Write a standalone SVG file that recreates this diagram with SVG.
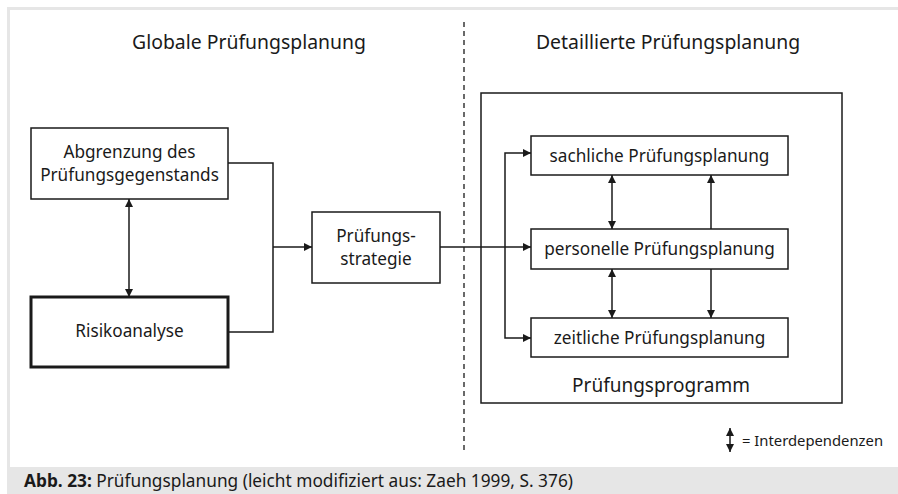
<svg xmlns="http://www.w3.org/2000/svg" width="898" height="494" viewBox="0 0 898 494">
  <style>
    text { font-family: "Noto Sans", "Liberation Sans", sans-serif; fill: #1a1a1a; }
    .title { font-size: 19.4px; text-anchor: middle; }
    .lbl { font-size: 17.2px; text-anchor: middle; }
    .box { fill: #fff; stroke: #1a1a1a; stroke-width: 1.5; }
    .thick { stroke-width: 3; }
    .line { fill: none; stroke: #1a1a1a; stroke-width: 1.5; }
  </style>
  <defs>
    <marker id="arr" viewBox="0 0 10 10" refX="10" refY="5" markerWidth="9" markerHeight="8" markerUnits="userSpaceOnUse" orient="auto-start-reverse">
      <path d="M0,0 L10,5 L0,10 Z" fill="#1a1a1a"/>
    </marker>
  </defs>

  <!-- frame and caption band -->
  <rect x="0" y="0" width="898" height="494" fill="#fff"/>
  <rect x="7" y="7" width="891" height="3" fill="#e6e6e6"/>
  <rect x="7" y="7" width="3" height="460" fill="#e6e6e6"/>
  <rect x="7" y="467" width="891" height="27" fill="#e6e6e6"/>
  <text x="24" y="487" style="font-size:17.3px"><tspan font-weight="bold">Abb. 23:</tspan> Prüfungsplanung (leicht modifiziert aus: Zaeh 1999, S. 376)</text>

  <!-- section headings and divider -->
  <text class="title" x="249" y="49">Globale Prüfungsplanung</text>
  <text class="title" x="668" y="49">Detaillierte Prüfungsplanung</text>
  <line x1="464" y1="22" x2="464" y2="452" stroke="#1a1a1a" stroke-width="1.3" stroke-dasharray="5,4"/>

  <!-- connectors -->
  <g id="connectors">
    <path class="line" d="M228,163 H273 V332 H228"/>
    <path class="line" d="M273,247 H312" marker-end="url(#arr)"/>
    <path class="line" d="M440,247 H531" marker-end="url(#arr)"/>
    <path class="line" d="M505,247 V153 H531" marker-end="url(#arr)"/>
    <path class="line" d="M505,247 V338 H531" marker-end="url(#arr)"/>
    <path class="line" d="M129,199 V297" marker-start="url(#arr)" marker-end="url(#arr)"/>
    <path class="line" d="M612,175 V229" marker-start="url(#arr)" marker-end="url(#arr)"/>
    <path class="line" d="M711,229 V175" marker-end="url(#arr)"/>
    <path class="line" d="M612,269 V318" marker-start="url(#arr)" marker-end="url(#arr)"/>
    <path class="line" d="M711,269 V318" marker-end="url(#arr)"/>
  </g>

  <!-- nodes -->
  <g id="programm">
    <rect class="box" x="481" y="93" width="361" height="310" style="fill:none"/>
    <text class="title" x="661" y="392" style="font-size:19px">Prüfungsprogramm</text>
  </g>
  <g id="abgrenzung">
    <rect class="box" x="31" y="128" width="197" height="71"/>
    <text class="lbl" x="129.5" y="158">Abgrenzung des</text>
    <text class="lbl" x="129.5" y="181">Prüfungsgegenstands</text>
  </g>
  <g id="risikoanalyse">
    <rect class="box thick" x="31" y="297" width="197" height="70"/>
    <text class="lbl" x="129.5" y="337">Risikoanalyse</text>
  </g>
  <g id="strategie">
    <rect class="box" x="312" y="212" width="128" height="71"/>
    <text class="lbl" x="376" y="242">Prüfungs-</text>
    <text class="lbl" x="376" y="265">strategie</text>
  </g>
  <g id="sachlich">
    <rect class="box" x="531" y="136" width="257" height="39"/>
    <text class="lbl" x="659.5" y="162">sachliche Prüfungsplanung</text>
  </g>
  <g id="personell">
    <rect class="box" x="531" y="229" width="257" height="40"/>
    <text class="lbl" x="659.5" y="255">personelle Prüfungsplanung</text>
  </g>
  <g id="zeitlich">
    <rect class="box" x="531" y="318" width="257" height="39"/>
    <text class="lbl" x="659.5" y="344">zeitliche Prüfungsplanung</text>
  </g>

  <!-- legend -->
  <g id="legend">
    <path class="line" d="M730,428 V452" marker-start="url(#arr)" marker-end="url(#arr)"/>
    <text x="742" y="446" style="font-size:14.8px">= Interdependenzen</text>
  </g>
</svg>
